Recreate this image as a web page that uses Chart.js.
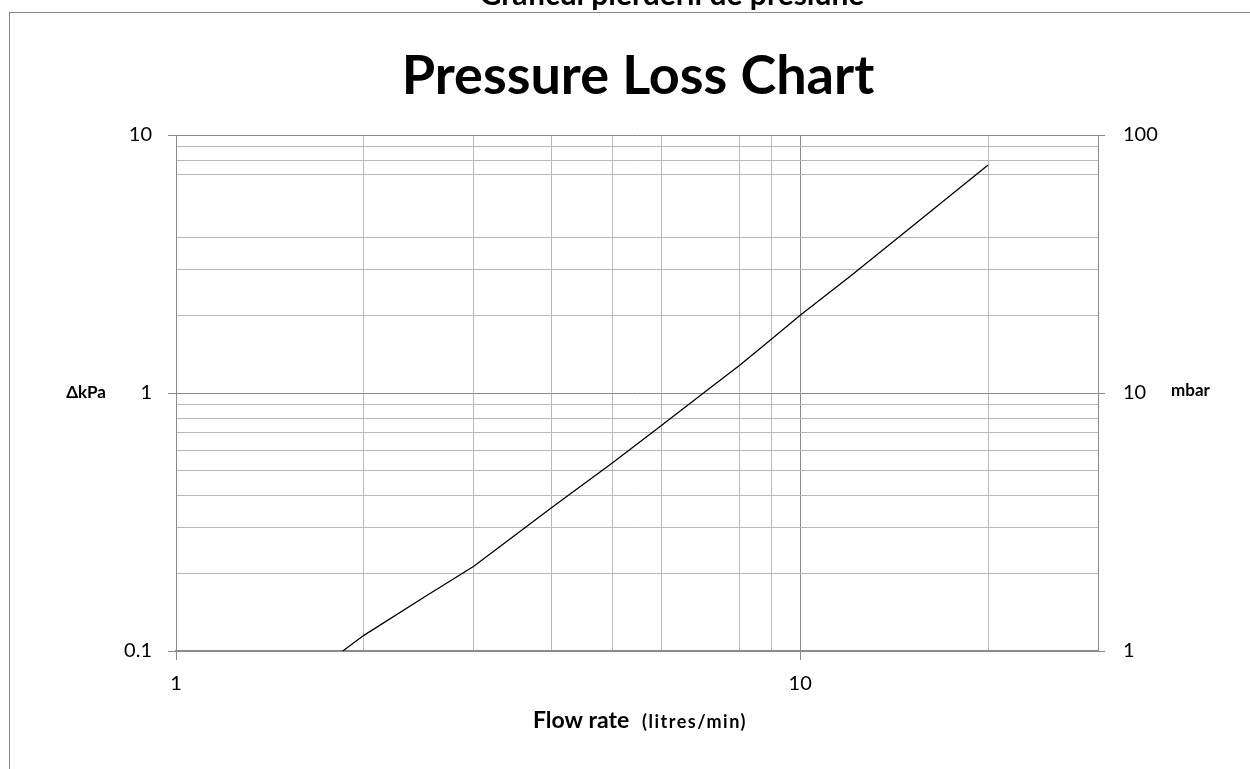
<!DOCTYPE html>
<html>
<head>
<meta charset="utf-8">
<script src="https://cdn.jsdelivr.net/npm/chart.js@4.4.1/dist/chart.umd.min.js"></script>
<style>
  html, body { margin: 0; padding: 0; background: #fff; }
  #wrap { position: relative; width: 1250px; height: 769px; overflow: hidden; }
  canvas { display: block; }
</style>
</head>
<body>
<div id="wrap"><canvas id="c" width="1250" height="769"></canvas></div>
<script>
// ---- data ----
const flowRate    = [1.85, 2, 2.5, 3, 4, 5, 6, 7, 8, 9, 10, 12, 15, 20];          // litres/min
const pressureKPa = [0.1, 0.115, 0.162, 0.213, 0.36, 0.535, 0.75, 1.0, 1.28, 1.62, 2.0, 2.82, 4.36, 7.65]; // kPa
const xGridValues = [1, 2, 3, 4, 5, 6, 8, 9, 10, 20, 30];
const yGridValues = [0.1, 0.2, 0.3, 0.4, 0.5, 0.6, 0.7, 0.8, 0.9, 1, 2, 3, 4, 7, 8, 9, 10];
const y2GridValues = [1, 10, 100];
const xTickLabels = [1, 10];
const yTickLabels = [0.1, 1, 10];
const y2TickLabels = [1, 10, 100];
const chartTitle = 'Pressure Loss Chart';
const topTitle = 'Graficul pierderii de presiune';
const yTitle = '\u0394kPa';
const y2Title = 'mbar';
const xTitleMain = 'Flow rate';
const xTitleUnit = '(litres/min)';

const FONT = 'Lato, "DejaVu Sans", sans-serif';
const MAJOR = '#8a8a8a';
const MINOR = '#b8b8b8';

function isLabelled(v, list) {
  return list.some(t => Math.abs(v - t) / t < 1e-6);
}
function setTicks(values) {
  return function (scale) {
    scale.ticks = values.map(v => ({ value: v }));
  };
}

const points = flowRate.map((x, i) => ({ x: x, y: pressureKPa[i] }));

const textPlugin = {
  id: 'texts',
  beforeDraw(chart) {
    const c = chart.ctx;
    c.save();
    c.fillStyle = '#ffffff';
    c.fillRect(0, 0, chart.width, chart.height);
    c.strokeStyle = '#868686';
    c.lineWidth = 1;
    c.strokeRect(9.5, 12.5, 1400, 1000);
    c.restore();
  },
  afterDraw(chart) {
    const c = chart.ctx;
    const a = chart.chartArea;
    c.save();
    c.fillStyle = '#000';
    c.textBaseline = 'alphabetic';
    // clipped outer title
    c.font = 'bold 30px ' + FONT;
    c.textAlign = 'center';
    c.fillText(topTitle, 672, 5);
    // main title
    c.font = 'bold 54px ' + FONT;
    c.fillText(chartTitle, 638, 94);
    // y titles
    const midY = (a.top + a.bottom) / 2;
    c.textBaseline = 'middle';
    c.font = 'bold 17px ' + FONT;
    c.textAlign = 'right';
    c.fillText(yTitle, 106, midY);
    c.textAlign = 'left';
    c.fillText(y2Title, 1171, midY - 2);
    // x title
    c.textBaseline = 'alphabetic';
    c.textAlign = 'left';
    c.font = 'bold 23px ' + FONT;
    c.fillText(xTitleMain, 533, 728);
    c.font = 'bold 18px ' + FONT;
    c.letterSpacing = '1.5px';
    c.fillText(xTitleUnit, 642, 728);
    c.restore();
  }
};

new Chart(document.getElementById('c'), {
  type: 'line',
  data: {
    datasets: [{
      data: points,
      borderColor: '#000000',
      borderWidth: 1.3,
      pointRadius: 0,
      tension: 0,
      fill: false,
      yAxisID: 'y'
    }, {
      data: [],
      yAxisID: 'y2'
    }]
  },
  options: {
    responsive: false,
    animation: false,
    devicePixelRatio: 1,
    layout: { padding: { top: 135, left: 0, right: 0, bottom: 0 } },
    plugins: { legend: { display: false }, title: { display: false }, tooltip: { enabled: false } },
    scales: {
      x: {
        type: 'logarithmic',
        position: 'bottom',
        min: 1, max: 30,
        afterBuildTicks: setTicks(xGridValues),
        afterFit(s) { s.height = 118; },
        border: { color: MAJOR, width: 2 },
        grid: {
          color: ctx => (ctx.tick && isLabelled(ctx.tick.value, xTickLabels)) ? MAJOR : MINOR,
          tickColor: ctx => (ctx.tick && isLabelled(ctx.tick.value, xTickLabels)) ? MAJOR : 'rgba(0,0,0,0)',
          tickLength: 9,
          lineWidth: 1
        },
        ticks: {
          autoSkip: false,
          maxRotation: 0,
          padding: 12,
          color: '#000',
          font: { family: FONT, size: 20 },
          callback: v => isLabelled(v, xTickLabels) ? String(Math.round(v)) : ''
        }
      },
      y: {
        type: 'logarithmic',
        position: 'left',
        min: 0.1, max: 10,
        afterBuildTicks: setTicks(yGridValues),
        afterFit(s) { s.width = 176; },
        border: { color: MAJOR, width: 1 },
        grid: {
          color: ctx => (ctx.tick && isLabelled(ctx.tick.value, yTickLabels)) ? MAJOR : MINOR,
          tickColor: ctx => (ctx.tick && isLabelled(ctx.tick.value, yTickLabels)) ? MAJOR : 'rgba(0,0,0,0)',
          tickLength: 8,
          lineWidth: 1
        },
        ticks: {
          autoSkip: false,
          padding: 16,
          color: '#000',
          font: { family: FONT, size: 20 },
          callback: v => isLabelled(v, yTickLabels) ? (v < 1 ? v.toFixed(1) : String(Math.round(v))) : ''
        }
      },
      y2: {
        type: 'logarithmic',
        position: 'right',
        min: 1, max: 100,
        afterBuildTicks: setTicks(y2GridValues),
        afterFit(s) { s.width = 152; },
        border: { color: MAJOR, width: 1 },
        grid: {
          drawOnChartArea: false,
          color: MAJOR,
          tickColor: MAJOR,
          tickLength: 7
        },
        ticks: {
          autoSkip: false,
          padding: 18,
          color: '#000',
          font: { family: FONT, size: 20 },
          callback: v => isLabelled(v, y2TickLabels) ? String(Math.round(v)) : ''
        }
      }
    }
  },
  plugins: [textPlugin]
});
</script>
</body>
</html>
